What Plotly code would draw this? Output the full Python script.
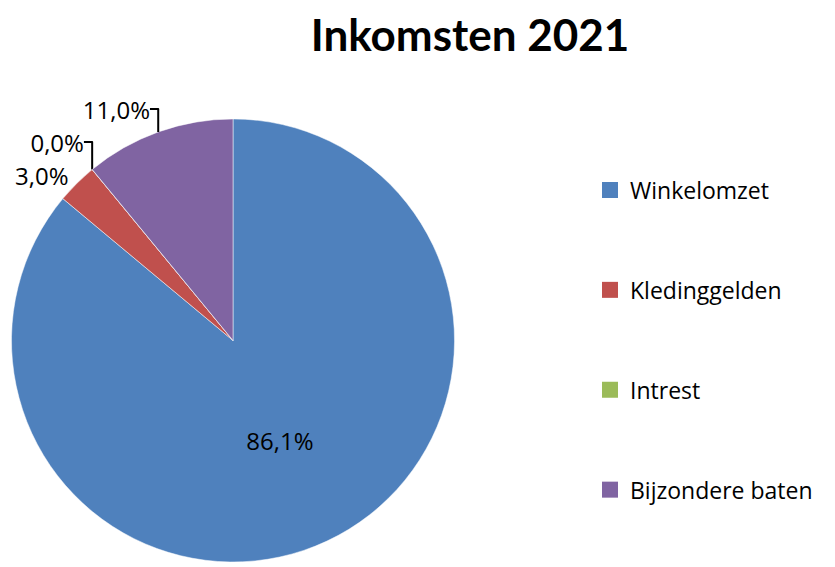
import plotly.graph_objects as go

categories = ["Winkelomzet", "Kledinggelden", "Intrest", "Bijzondere baten"]
shares = [86.06, 2.97, 0.01, 10.96]
colors = ["#4F81BD", "#C0504D", "#9BBB59", "#8064A2"]
text_positions = ["inside", "outside", "outside", "outside"]

W, H = 835, 567
LABEL_FONT = "Open Sans, Carlito, Calibri, sans-serif"
TITLE_FONT = "Lato, Carlito, Calibri, sans-serif"

fig = go.Figure()
fig.add_trace(go.Pie(
    labels=categories,
    values=shares,
    sort=False,
    direction="clockwise",
    rotation=0,
    marker=dict(colors=colors, line=dict(color="white", width=0.5)),
    texttemplate="%{percent:.1%}",
    textposition=text_positions,
    textfont=dict(family=LABEL_FONT, size=24, color="black"),
    insidetextorientation="horizontal",
    showlegend=False,
    domain=dict(x=[9 / W, 457 / W], y=[0, 447 / H]),
    hoverinfo="label+percent",
))

for i, (cat, col) in enumerate(zip(categories, colors)):
    fig.add_trace(go.Scatter(
        x=[None], y=[None], mode="markers", name=cat,
        marker=dict(symbol="square", size=16, color=col),
        legendgroup=f"g{i}", showlegend=True,
    ))

fig.update_layout(
    width=W, height=H,
    margin=dict(l=0, r=0, t=0, b=0),
    paper_bgcolor="white", plot_bgcolor="white",
    separators=",.",
    title=dict(text="<b>Inkomsten 2021</b>", x=470 / W, xanchor="center",
               y=1 - 36 / H, yanchor="middle",
               font=dict(family=TITLE_FONT, size=44, color="black")),
    xaxis=dict(visible=False), yaxis=dict(visible=False),
    legend=dict(x=590 / W, xanchor="left", y=1 - 170 / H, yanchor="top",
                font=dict(family=LABEL_FONT, size=23, color="black"),
                tracegroupgap=67, itemsizing="trace",
                bgcolor="rgba(0,0,0,0)"),
)

fig.write_html("out.html")
